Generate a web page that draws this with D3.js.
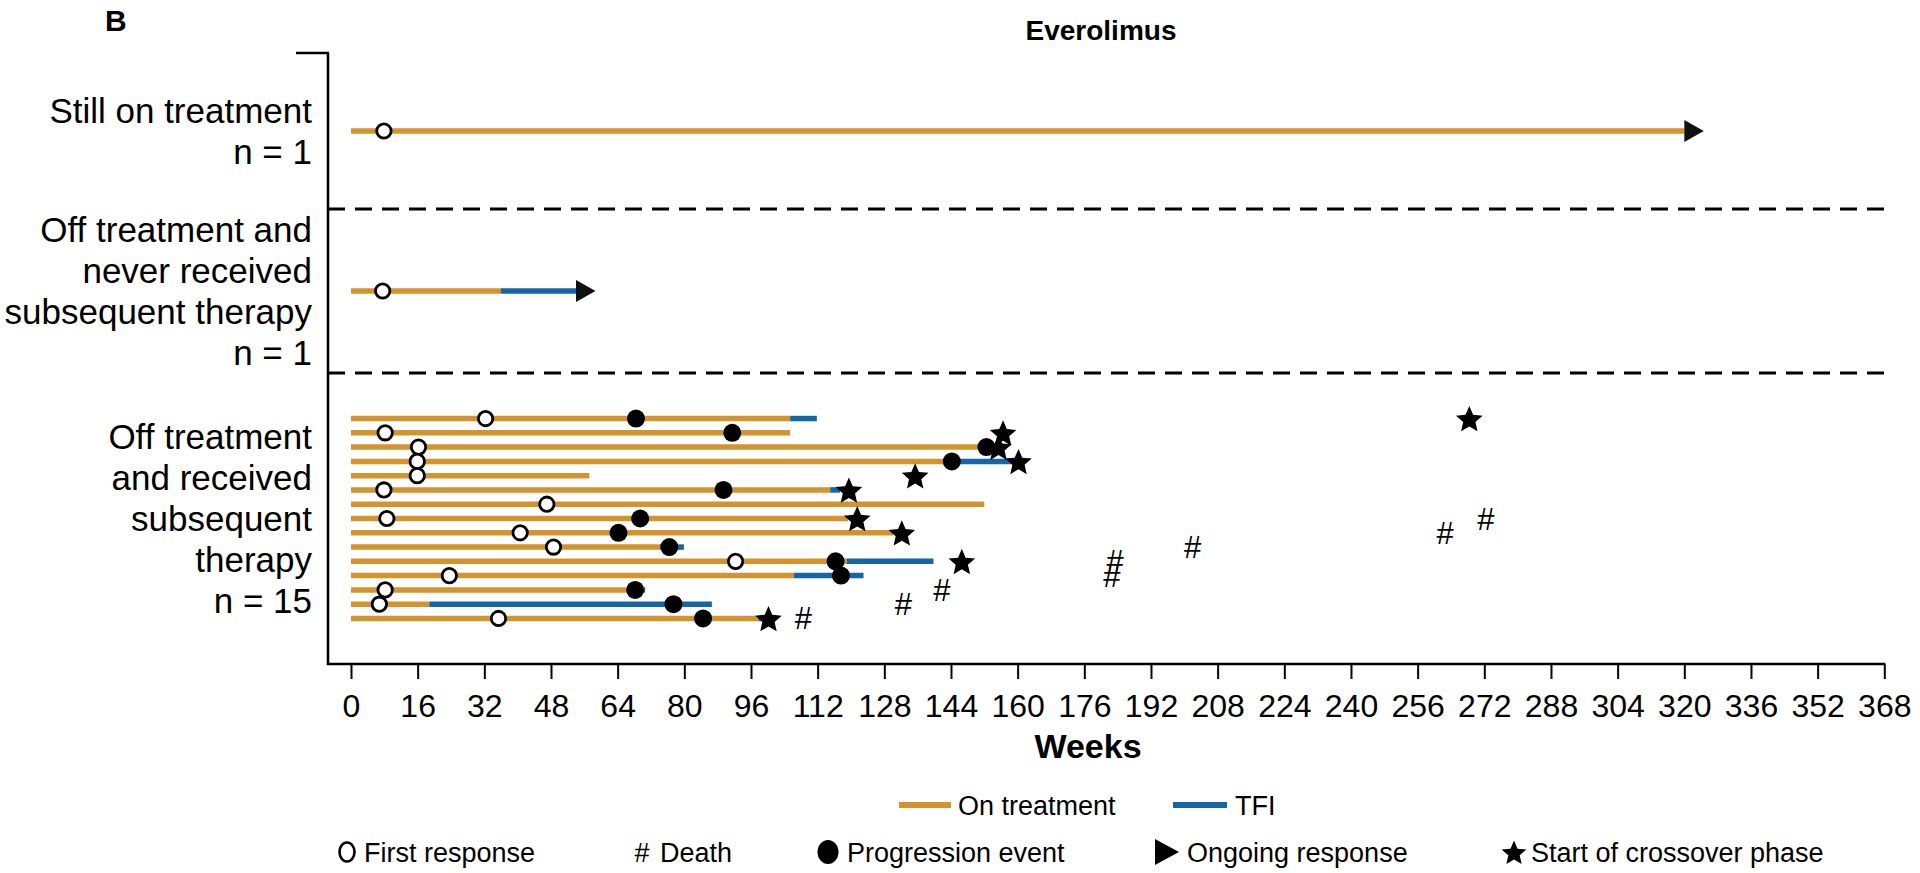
<!DOCTYPE html>
<html><head><meta charset="utf-8">
<script src="https://cdn.jsdelivr.net/npm/d3@7"></script>
<style>
body{margin:0;background:#fff;}
svg{display:block;font-family:"Liberation Sans", Arial, Helvetica, sans-serif;}
</style></head><body>
<svg id="chart" width="1920" height="873"></svg>
<script>
// ---------------- DATA ----------------
const panelLetter = "B";
const chartTitle = "Everolimus";
const xAxisTitle = "Weeks";
const weekTicks = [0,16,32,48,64,80,96,112,128,144,160,176,192,208,224,240,256,272,288,304,320,336,352,368];
const groupLabels = [
  ["Still on treatment", "n = 1"],
  ["Off treatment and", "never received", "subsequent therapy", "n = 1"],
  ["Off treatment", "and received", "subsequent", "therapy", "n = 15"]
];
// one entry per patient (row), top to bottom
const patientGroup   = [0, 1, 2,2,2,2,2,2,2,2,2,2,2,2,2,2,2];
const onTreatmentEnd = [320, 36, 105.4, 105.4, 151, 144.2, 57.2, 115, 152, 119.3, 130.2, 74.2, 119, 106.3, 70.2, 18.8, 97.8];
const tfiEnd         = [null, 54, 111.8, null, null, 158.6, null, 117.4, null, null, null, 79.9, 139.8, 123, 70.6, 86.6, 98.6];
const firstResponse  = [7.9, 7.6, 32.3, 8.2, 16.2, 15.9, 15.9, 7.9, 47, 8.6, 40.6, 48.6, 92.3, 23.6, 8.2, 6.8, 35.4];
const progression    = [null, null, 68.4, 91.5, 152.5, 144.2, null, 89.4, null, 69.4, 64.2, 76.4, 116.3, 117.6, 68.2, 77.4, 84.5];
const crossoverStart = [null, null, 268.4, 156.5, 155.4, 160.2, 135.4, 119.5, null, 121.5, 132.2, null, 146.6, null, null, null, 100.2];
const deathWeek      = [null, null, null, null, null, null, null, null, null, 272.4, 262.6, 202, 183.4, 182.6, 141.8, 132.6, 108.6];
const ongoingResponse= [true, true, false,false,false,false,false,false,false,false,false,false,false,false,false,false,false];
const legendLines = ["On treatment", "TFI"];
const legendSymbols = ["First response", "Death", "Progression event", "Ongoing response", "Start of crossover phase"];

// ---------------- LAYOUT ----------------
const ORANGE = "#D3942D", BLUE = "#1565A7";
const svg = d3.select("#chart");
const x = d3.scaleLinear().domain([0, 368]).range([351, 1884.3]);
const axisX = 328, axisTop = 53, axisBottom = 664;
const groupBounds = [axisTop, 209, 373, axisBottom];
const rowStep = 14.28;

const patients = patientGroup.map((g, i) => ({
  id: i, group: g, onEnd: onTreatmentEnd[i], tfiEnd: tfiEnd[i], fr: firstResponse[i],
  prog: progression[i], cross: crossoverStart[i], death: deathWeek[i], ongoing: ongoingResponse[i]
}));

// plump five-pointed star symbol (size = outer radius squared)
const plumpStar = {
  draw(ctx, size) {
    const R = Math.sqrt(size), r = R * 0.46;
    for (let k = 0; k < 10; k++) {
      const a = -Math.PI / 2 + k * Math.PI / 5, rr = k % 2 ? r : R;
      const px = rr * Math.cos(a), py = rr * Math.sin(a);
      k ? ctx.lineTo(px, py) : ctx.moveTo(px, py);
    }
    ctx.closePath();
  }
};

// row y position via per-group point scales
const rowY = {};
groupLabels.forEach((lab, g) => {
  const ids = patients.filter(p => p.group === g).map(p => p.id);
  const c = (groupBounds[g] + groupBounds[g + 1]) / 2;
  const half = (ids.length - 1) / 2 * rowStep;
  const s = d3.scalePoint().domain(ids).range([c - half, c + half]);
  ids.forEach(id => rowY[id] = ids.length === 1 ? c : s(id));
});

// axes frame
svg.append("line").attr("x1", axisX).attr("x2", axisX).attr("y1", axisTop).attr("y2", axisBottom + 1)
  .attr("stroke", "#000").attr("stroke-width", 2.6);
svg.append("line").attr("x1", 296).attr("x2", axisX + 1).attr("y1", axisTop).attr("y2", axisTop)
  .attr("stroke", "#000").attr("stroke-width", 2.6);
svg.append("line").attr("x1", axisX - 1).attr("x2", x(368) + 1).attr("y1", axisBottom).attr("y2", axisBottom)
  .attr("stroke", "#000").attr("stroke-width", 2.6);

const xAxis = d3.axisBottom(x).tickValues(weekTicks).tickSize(15).tickSizeOuter(0).tickPadding(15).tickFormat(d3.format("d"));
const gx = svg.append("g").attr("transform", `translate(0,${axisBottom})`).call(xAxis);
gx.select(".domain").remove();
gx.selectAll(".tick line").attr("stroke", "#000").attr("stroke-width", 2);
gx.selectAll(".tick text").attr("font-size", 32).attr("fill", "#000")
  .attr("font-family", "Liberation Sans, Arial, sans-serif");

// dashed separators
[groupBounds[1], groupBounds[2]].forEach(yv => {
  svg.append("line").attr("x1", axisX).attr("x2", x(368) + 1).attr("y1", yv).attr("y2", yv)
    .attr("stroke", "#000").attr("stroke-width", 2.8).attr("stroke-dasharray", "17,10");
});

// group labels
groupLabels.forEach((lines, g) => {
  const c = (groupBounds[g] + groupBounds[g + 1]) / 2;
  const lh = 41;
  const t = svg.append("text").attr("text-anchor", "end").attr("font-size", 35).attr("fill", "#000");
  lines.forEach((ln, k) => {
    t.append("tspan").attr("x", 312)
      .attr("y", c + (k - (lines.length - 1) / 2) * lh + 12.5).text(ln);
  });
});

// bars
const gBars = svg.append("g");
gBars.selectAll(".on").data(patients).join("line")
  .attr("x1", x(0)).attr("x2", d => x(d.onEnd))
  .attr("y1", d => rowY[d.id]).attr("y2", d => rowY[d.id])
  .attr("stroke", ORANGE).attr("stroke-width", 5.5);
gBars.selectAll(".tfi").data(patients.filter(d => d.tfiEnd != null)).join("line")
  .attr("x1", d => x(d.onEnd)).attr("x2", d => x(d.tfiEnd))
  .attr("y1", d => rowY[d.id]).attr("y2", d => rowY[d.id])
  .attr("stroke", BLUE).attr("stroke-width", 5.5);

// ongoing response arrows
svg.selectAll(".arrow").data(patients.filter(d => d.ongoing)).join("path")
  .attr("d", d => {
    const bx = x(d.tfiEnd != null ? d.tfiEnd : d.onEnd), y = rowY[d.id];
    return `M${bx},${y - 11}L${bx + 19.5},${y}L${bx},${y + 11}Z`;
  }).attr("fill", "#111");

// first response
svg.selectAll(".fr").data(patients.filter(d => d.fr != null)).join("circle")
  .attr("cx", d => x(d.fr)).attr("cy", d => rowY[d.id]).attr("r", 7.2)
  .attr("fill", "#fff").attr("stroke", "#000").attr("stroke-width", 2.8);
// progression
svg.selectAll(".pg").data(patients.filter(d => d.prog != null)).join("circle")
  .attr("cx", d => x(d.prog)).attr("cy", d => rowY[d.id]).attr("r", 9).attr("fill", "#000");
// crossover stars
const star = d3.symbol().type(plumpStar).size(14 * 14);
svg.selectAll(".st").data(patients.filter(d => d.cross != null)).join("path")
  .attr("d", star).attr("transform", d => `translate(${x(d.cross)},${rowY[d.id] + 1.5})`).attr("fill", "#000");
// deaths
svg.selectAll(".dt").data(patients.filter(d => d.death != null)).join("text")
  .attr("x", d => x(d.death)).attr("y", d => rowY[d.id] + 11).attr("text-anchor", "middle")
  .attr("font-size", 31).attr("fill", "#000").text("#");

// titles
svg.append("text").attr("x", 105).attr("y", 31).attr("font-size", 30).attr("font-weight", "bold").text(panelLetter);
svg.append("text").attr("x", 1101).attr("y", 40).attr("text-anchor", "middle").attr("font-size", 28).attr("font-weight", "bold").text(chartTitle);
svg.append("text").attr("x", 1088).attr("y", 758).attr("text-anchor", "middle").attr("font-size", 34).attr("font-weight", "bold").text(xAxisTitle);

// legend row 1
const ly1 = 805, ly2 = 852, lfs = 27, base = 0.36 * lfs;
[[899, 951, 958, ORANGE], [1173, 1227, 1235, BLUE]].forEach((p, i) => {
  svg.append("line").attr("x1", p[0]).attr("x2", p[1]).attr("y1", ly1).attr("y2", ly1)
    .attr("stroke", p[3]).attr("stroke-width", 6);
  svg.append("text").attr("x", p[2]).attr("y", ly1 + base).attr("font-size", lfs).text(legendLines[i]);
});
// legend row 2
svg.append("ellipse").attr("cx", 347).attr("cy", ly2).attr("rx", 7.5).attr("ry", 9.5)
  .attr("fill", "#fff").attr("stroke", "#000").attr("stroke-width", 2.6);
svg.append("text").attr("x", 364).attr("y", ly2 + base).attr("font-size", lfs).text(legendSymbols[0]);
svg.append("text").attr("x", 642).attr("y", ly2 + base).attr("text-anchor", "middle").attr("font-size", lfs).text("#");
svg.append("text").attr("x", 660).attr("y", ly2 + base).attr("font-size", lfs).text(legendSymbols[1]);
svg.append("ellipse").attr("cx", 828).attr("cy", ly2).attr("rx", 10.5).attr("ry", 12).attr("fill", "#000");
svg.append("text").attr("x", 847).attr("y", ly2 + base).attr("font-size", lfs).text(legendSymbols[2]);
svg.append("path").attr("d", `M1155,${ly2 - 13}L1179,${ly2}L1155,${ly2 + 13}Z`).attr("fill", "#000");
svg.append("text").attr("x", 1187).attr("y", ly2 + base).attr("font-size", lfs).text(legendSymbols[3]);
svg.append("path").attr("d", d3.symbol().type(plumpStar).size(13 * 13)).attr("transform", `translate(1514,${ly2 + 1.5})`).attr("fill", "#000");
svg.append("text").attr("x", 1531).attr("y", ly2 + base).attr("font-size", lfs).text(legendSymbols[4]);
</script>
</body></html>
